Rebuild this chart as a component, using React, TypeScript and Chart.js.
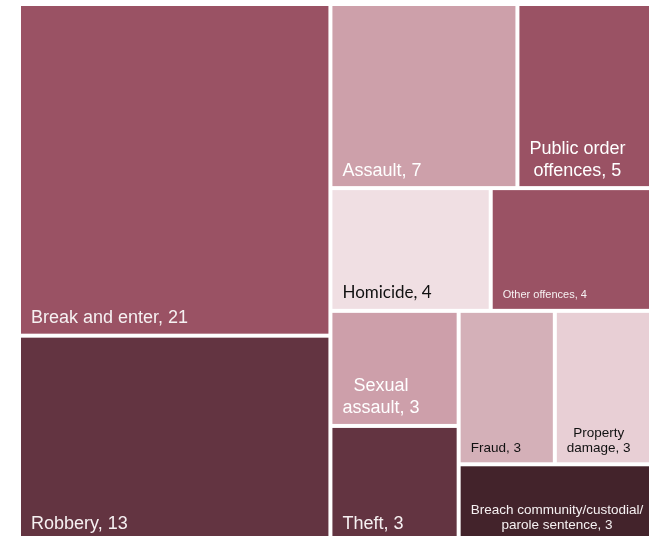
import React, { useEffect, useRef } from "react";
import { Chart, registerables } from "chart.js";

Chart.register(...registerables);

const categories: string[] = [
  "Break and enter",
  "Robbery",
  "Assault",
  "Public order offences",
  "Homicide",
  "Other offences",
  "Sexual assault",
  "Theft",
  "Fraud",
  "Property damage",
  "Breach community/custodial/parole sentence",
];

const values: number[] = [21, 13, 7, 5, 4, 4, 3, 3, 3, 3, 3];

const cellColors: string[] = [
  "#9a5264",
  "#633441",
  "#cda0aa",
  "#9a5264",
  "#f0dfe3",
  "#9a5264",
  "#cd9faa",
  "#633441",
  "#d4b0b8",
  "#e8cfd5",
  "#43232b",
];

const textColors: string[] = [
  "#f6f1f2",
  "#f6f1f2",
  "#ffffff",
  "#ffffff",
  "#111111",
  "#f6f1f2",
  "#ffffff",
  "#f6f1f2",
  "#111111",
  "#111111",
  "#f6f1f2",
];

const fontFamilies: string[] = [
  "'Liberation Sans', Arial, sans-serif",
  "'Liberation Sans', Arial, sans-serif",
  "'Liberation Sans', Arial, sans-serif",
  "'Liberation Sans', Arial, sans-serif",
  "Lato, 'Open Sans', sans-serif",
  "'Liberation Sans', Arial, sans-serif",
  "'Liberation Sans', Arial, sans-serif",
  "'Liberation Sans', Arial, sans-serif",
  "'Liberation Sans', Arial, sans-serif",
  "'Liberation Sans', Arial, sans-serif",
  "'Liberation Sans', Arial, sans-serif",
];

const fontSizes: number[] = [18, 18, 18, 18, 17, 11, 18, 18, 13.5, 13.5, 13.5];
const lineHeights: number[] = [22, 22, 22, 22, 20, 13, 22, 22, 15, 15, 15];

type Rect = { x: number; y: number; w: number; h: number; i: number };

function worst(row: number[], side: number): number {
  const s = row.reduce((a, b) => a + b, 0);
  let m = 0;
  for (const a of row) {
    const r = Math.max((side * side * a) / (s * s), (s * s) / (side * side * a));
    if (r > m) m = r;
  }
  return m;
}

function squarify(vals: number[], W: number, H: number): Rect[] {
  const total = vals.reduce((a, b) => a + b, 0);
  const k = (W * H) / total;
  const areas = vals.map((v) => v * k);
  const out: Rect[] = [];
  let r = { x: 0, y: 0, w: W, h: H };
  let i = 0;
  while (i < areas.length) {
    const side = Math.min(r.w, r.h);
    let row = [areas[i]];
    let j = i + 1;
    while (j < areas.length) {
      const next = [...row, areas[j]];
      if (worst(next, side) <= worst(row, side)) {
        row = next;
        j++;
      } else break;
    }
    const s = row.reduce((a, b) => a + b, 0);
    if (r.w >= r.h) {
      const cw = s / r.h;
      let yy = r.y;
      row.forEach((a, n) => {
        const h = a / cw;
        out.push({ x: r.x, y: yy, w: cw, h, i: i + n });
        yy += h;
      });
      r = { x: r.x + cw, y: r.y, w: r.w - cw, h: r.h };
    } else {
      const rh = s / r.w;
      let xx = r.x;
      row.forEach((a, n) => {
        const w = a / rh;
        out.push({ x: xx, y: r.y, w, h: rh, i: i + n });
        xx += w;
      });
      r = { x: r.x, y: r.y + rh, w: r.w, h: r.h - rh };
    }
    i = j;
  }
  return out;
}

function wrapText(ctx: CanvasRenderingContext2D, text: string, maxW: number): string[] {
  const tokens = text.match(/[^\s\/]+\/|[^\s\/]+\s*|\s+/g) || [text];
  const lines: string[] = [];
  let cur = "";
  for (const t of tokens) {
    const cand = cur + t;
    if (cur && ctx.measureText(cand.trim()).width > maxW) {
      lines.push(cur.trim());
      cur = t;
    } else {
      cur = cand;
    }
  }
  if (cur.trim()) lines.push(cur.trim());
  return lines;
}

const treemapPlugin = {
  id: "treemapCells",
  afterDatasetsDraw(chart: any) {
    const { ctx, chartArea, scales } = chart;
    const xs = scales.x;
    const ys = scales.y;
    const W = chartArea.right - chartArea.left;
    const H = chartArea.bottom - chartArea.top;
    const rects = squarify(values, W, H);
    const gap = 2;
    ctx.save();
    for (const r of rects) {
      const x0 = xs.getPixelForValue(r.x / W);
      const x1 = xs.getPixelForValue((r.x + r.w) / W);
      const y0 = ys.getPixelForValue(r.y / H);
      const y1 = ys.getPixelForValue((r.y + r.h) / H);
      const fx = x0 + gap;
      const fy = y0 + gap;
      const fw = x1 - x0 - gap * 2;
      const fh = y1 - y0 - gap * 2;
      ctx.fillStyle = cellColors[r.i];
      ctx.fillRect(fx, fy, fw, fh);

      const label = `${categories[r.i]}, ${values[r.i]}`;
      const size = fontSizes[r.i];
      ctx.font = `${size}px ${fontFamilies[r.i]}`;
      const lines = wrapText(ctx, label, fw - 12);
      const widths = lines.map((l) => ctx.measureText(l).width);
      const maxW = Math.max(...widths);
      const left = fx + 10;
      const cx = left + maxW / 2;
      const lh = lineHeights[r.i];
      const baseBottom = fy + fh - 10.5;
      ctx.fillStyle = textColors[r.i];
      ctx.textAlign = "center";
      ctx.textBaseline = "alphabetic";
      lines.forEach((l, n) => {
        const by = baseBottom - (lines.length - 1 - n) * lh;
        ctx.fillText(l, cx, by);
      });
    }
    ctx.restore();
  },
};

export default function App() {
  const ref = useRef<HTMLCanvasElement | null>(null);
  useEffect(() => {
    if (!ref.current) return;
    const chart = new Chart(ref.current, {
      type: "scatter",
      data: { datasets: [{ data: [] }] },
      options: {
        responsive: false,
        animation: false,
        devicePixelRatio: 1,
        layout: { padding: { left: 19, top: 4, right: 3, bottom: 4 } },
        plugins: { legend: { display: false }, tooltip: { enabled: false } },
        scales: {
          x: { type: "linear", min: 0, max: 1, display: false },
          y: { type: "linear", min: 0, max: 1, reverse: true, display: false },
        },
      },
      plugins: [treemapPlugin],
    });
    return () => chart.destroy();
  }, []);
  return (
    <div
      style={{
        position: "fixed",
        left: 0,
        top: 0,
        width: 654,
        height: 536,
        overflow: "hidden",
        background: "#ffffff",
      }}
    >
      <canvas ref={ref} width={654} height={545} style={{ display: "block" }} />
    </div>
  );
}
